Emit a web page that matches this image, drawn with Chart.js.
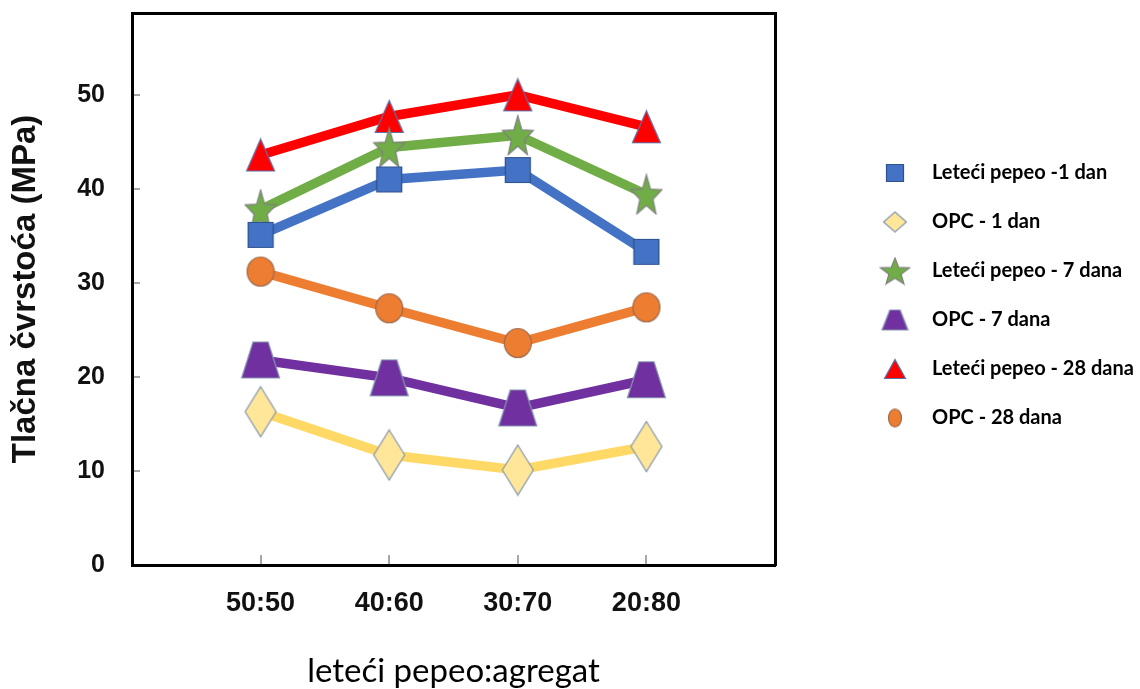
<!DOCTYPE html>
<html>
<head>
<meta charset="utf-8">
<script src="https://cdn.jsdelivr.net/npm/chart.js@4.4.1/dist/chart.umd.min.js"></script>
<style>
  html, body { margin: 0; padding: 0; background: #ffffff; }
  #wrap { width: 1140px; height: 689px; }
</style>
</head>
<body>
<div id="wrap"><canvas id="c" width="1140" height="689"></canvas></div>
<script>
// ---------- DATA ----------
const categories = ['50:50', '40:60', '30:70', '20:80'];
const seriesNames = ['Leteći pepeo -1 dan', 'OPC - 1 dan', 'Leteći pepeo - 7 dana', 'OPC - 7 dana', 'Leteći pepeo - 28 dana', 'OPC - 28 dana'];
const leteciPepeo1 = [35.1, 41.0, 42.0, 33.3];
const opc1 = [16.3, 11.7, 10.1, 12.6];
const leteciPepeo7 = [37.8, 44.4, 45.7, 39.4];
const opc7 = [21.8, 19.9, 16.7, 19.7];
const leteciPepeo28 = [43.6, 47.7, 50.0, 46.6];
const opc28 = [31.2, 27.3, 23.6, 27.4];
const yTicks = [0, 10, 20, 30, 40, 50];
const xTitle = 'leteći pepeo:agregat';
const yTitle = 'Tlačna čvrstoća (MPa)';

// ---------- MARKERS ----------
function marker(w, h, fill, stroke, pathFn) {
  const c = document.createElement('canvas');
  c.width = Math.ceil(w + 3); c.height = Math.ceil(h + 3);
  const g = c.getContext('2d');
  g.translate(1.5, 1.5);
  g.beginPath(); pathFn(g, w, h); g.closePath();
  g.fillStyle = fill; g.fill();
  g.lineWidth = 1.2; g.strokeStyle = stroke; g.stroke();
  return c;
}
const shp = {
  rect: (g, w, h) => g.rect(0, 0, w, h),
  diamond: (g, w, h) => { g.moveTo(w/2, 0); g.lineTo(w, h/2); g.lineTo(w/2, h); g.lineTo(0, h/2); },
  triangle: (g, w, h) => { g.moveTo(w/2, 0); g.lineTo(w, h); g.lineTo(0, h); },
  trapezoid: (g, w, h) => { const t = w * 0.3; g.moveTo(t, 0); g.lineTo(w - t, 0); g.lineTo(w, h); g.lineTo(0, h); },
  ellipse: (g, w, h) => g.ellipse(w/2, h/2, w/2, h/2, 0, 0, Math.PI * 2),
  star: (g, w, h) => {
    for (let i = 0; i < 10; i++) {
      const r = i % 2 === 0 ? 1 : 0.42;
      const a = -Math.PI/2 + i * Math.PI / 5;
      const px = w/2 + Math.cos(a) * r * w/2 / 0.951;
      const py = h * 0.55 + Math.sin(a) * r * h * 0.55;
      if (i === 0) g.moveTo(px, py); else g.lineTo(px, py);
    }
  }
};
const colors = {
  blue: '#4472c4', yellowLine: '#ffd966', yellowFill: '#ffe699', green: '#70ad47',
  purple: '#7030a0', red: '#ff0000', orange: '#ed7d31'
};
const chartMarkers = [
  marker(25, 25, colors.blue, '#2f528f', shp.rect),
  marker(31, 50, colors.yellowFill, '#8497b0', shp.diamond),
  marker(31, 39, colors.green, '#7f7f7f', shp.star),
  marker(38, 36, colors.purple, '#8497b0', shp.trapezoid),
  marker(28, 32, colors.red, '#5b6fa8', shp.triangle),
  marker(27, 29, colors.orange, '#9c6b4e', shp.ellipse)
];
const legendMarkers = [
  marker(17, 17, colors.blue, '#2f528f', shp.rect),
  marker(23, 20, colors.yellowFill, '#8497b0', shp.diamond),
  marker(29, 26, colors.green, '#7f7f7f', shp.star),
  marker(26, 20, colors.purple, '#8497b0', shp.trapezoid),
  marker(21, 19, colors.red, '#5b6fa8', shp.triangle),
  marker(13, 18, colors.orange, '#9c6b4e', shp.ellipse)
];

const seriesValues = [leteciPepeo1, opc1, leteciPepeo7, opc7, leteciPepeo28, opc28];
const lineColors = [colors.blue, colors.yellowLine, colors.green, colors.purple, colors.red, colors.orange];
const xPos = categories.map((c, i) => i + 1);

const datasets = seriesValues.map((vals, i) => ({
  label: seriesNames[i],
  data: vals.map((v, j) => ({ x: xPos[j], y: v })),
  borderColor: lineColors[i],
  backgroundColor: lineColors[i],
  borderWidth: 9.5,
  pointStyle: chartMarkers[i],
  pointRadius: 12,
  tension: 0,
  fill: false,
  clip: false
}));

const legendTextFont = { family: 'Lato', size: 20, weight: 'bold' };
const legendPad = 29;
const legendBoxW = 74 - legendTextFont.size;
const mctx = document.createElement('canvas').getContext('2d');
mctx.font = 'bold ' + legendTextFont.size + 'px ' + legendTextFont.family;
const maxTextW = Math.max(...seriesNames.map(s => mctx.measureText(s).width));
const legendW = legendPad + legendBoxW + legendTextFont.size / 2 + maxTextW + 10;
const legendLeft = 895 - legendBoxW / 2 - legendPad;
const rightPad = 1140 - legendLeft - legendW;
const plotRight = 775;

function noPad(s) { s.paddingTop = 0; s.paddingBottom = 0; s.paddingLeft = 0; s.paddingRight = 0; }

new Chart(document.getElementById('c'), {
  type: 'line',
  data: { datasets },
  options: {
    responsive: false,
    animation: false,
    events: [],
    layout: { autoPadding: false, padding: { top: 13, left: 0, right: rightPad, bottom: 0 } },
    scales: {
      x: {
        type: 'linear', position: 'bottom', min: 0, max: 5,
        afterBuildTicks: s => { s.ticks = xPos.map(v => ({ value: v })); },
        afterFit: s => { s.height = 124; noPad(s); },
        ticks: {
          callback: (v, i) => categories[i],
          font: { family: 'Liberation Sans', weight: 'bold', size: 27 },
          color: '#111', padding: 32, maxRotation: 0, autoSkip: false
        },
        grid: { drawOnChartArea: false, tickLength: -10, color: '#a6a6a6', lineWidth: 2 },
        border: { display: true, color: '#000', width: 3 },
        title: {
          display: true, text: xTitle, color: '#000',
          font: { family: 'Lato', size: 33, lineHeight: 1 },
          padding: { top: 0, bottom: 1 }
        }
      },
      xTop: {
        type: 'linear', position: 'top', min: 0, max: 5, display: true,
        afterFit: s => { s.height = 0; noPad(s); },
        ticks: { display: false },
        grid: { display: false, drawTicks: false },
        border: { display: true, color: '#000', width: 3 }
      },
      y: {
        type: 'linear', position: 'left', min: 0, max: 58.7,
        afterBuildTicks: s => { s.ticks = yTicks.map(v => ({ value: v })); },
        afterFit: s => { s.width = 132; noPad(s); },
        ticks: {
          font: { family: 'Liberation Sans', weight: 'bold', size: 25 },
          color: '#111', padding: 35
        },
        grid: { drawOnChartArea: false, tickLength: -8, color: '#a6a6a6', lineWidth: 2 },
        border: { display: true, color: '#000', width: 3 },
        title: {
          display: true, text: yTitle, color: '#111',
          font: { family: 'Liberation Sans', weight: 'bold', size: 33 },
          padding: { top: 6, bottom: 0 }
        }
      },
      yRight: {
        type: 'linear', position: 'right', min: 0, max: 58.7, display: true,
        afterFit: s => { s.width = legendLeft - plotRight; noPad(s); },
        ticks: { display: false },
        grid: { display: false, drawTicks: false },
        border: { display: true, color: '#000', width: 3 }
      }
    },
    plugins: {
      tooltip: { enabled: false },
      legend: {
        display: true, position: 'right', align: 'start', maxWidth: 500,
        title: { display: true, text: ' ', font: { size: 10, lineHeight: 1.2 }, padding: { top: 0, bottom: 109 } },
        labels: {
          usePointStyle: true,
          pointStyleWidth: legendBoxW,
          boxHeight: legendTextFont.size,
          padding: legendPad,
          font: legendTextFont,
          color: '#000',
          generateLabels: chart => chart.data.datasets.map((ds, i) => ({
            text: ds.label,
            pointStyle: legendMarkers[i],
            fillStyle: ds.backgroundColor,
            strokeStyle: ds.borderColor,
            fontColor: '#000',
            lineWidth: 0,
            hidden: false,
            datasetIndex: i
          }))
        }
      }
    }
  }
});
</script>
</body>
</html>
